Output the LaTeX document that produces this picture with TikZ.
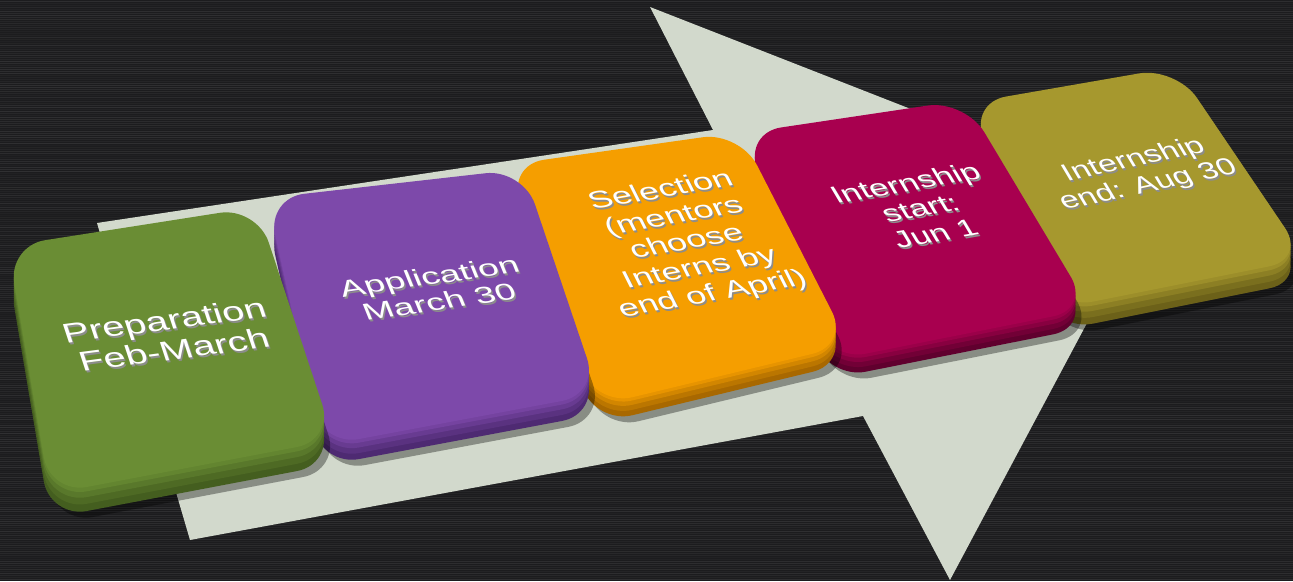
\documentclass[tikz,border=0pt]{standalone}
\usepackage{fontspec}
\newfontfamily\labfont{Liberation Sans}
\usetikzlibrary{calc}
\definecolor{bg}{HTML}{1C1C1E}
\definecolor{arrowc}{HTML}{D2D9CC}
\definecolor{gTop}{HTML}{6A8D34}\definecolor{gSide}{HTML}{445E1F}
\definecolor{pTop}{HTML}{7D49AA}\definecolor{pSide}{HTML}{4E2A72}
\definecolor{oTop}{HTML}{F59E00}\definecolor{oSide}{HTML}{A86800}
\definecolor{mTop}{HTML}{A8004F}\definecolor{mSide}{HTML}{60002E}
\definecolor{yTop}{HTML}{A6982E}\definecolor{ySide}{HTML}{6C6119}
\tikzset{
  lbl/.style={text=white, align=center, inner sep=0pt},
  lblshadow/.style={text=black!45},
  capfill/.style={rounded corners=0.75cm},
}
% #1 TL, #2 TR, #3 BR, #4 BL, #5 thickness, #6 top colour, #7 side colour
\newcommand{\keycap}[7]{%
  \fill[black,opacity=0.35,shift={(6,#5+6)},capfill] ($(#1)!0.5!(#2)$) -- (#2) -- (#3) -- (#4) -- (#1) -- cycle;
  \fill[#7,shift={(0,#5)},capfill] ($(#1)!0.5!(#2)$) -- (#2) -- (#3) -- (#4) -- (#1) -- cycle;
  \fill[#7!75!#6,shift={(0,#5*0.7)},capfill] ($(#1)!0.5!(#2)$) -- (#2) -- (#3) -- (#4) -- (#1) -- cycle;
  \fill[#7!45!#6,shift={(0,#5*0.42)},capfill] ($(#1)!0.5!(#2)$) -- (#2) -- (#3) -- (#4) -- (#1) -- cycle;
  \fill[#7!18!#6,shift={(0,#5*0.18)},capfill] ($(#1)!0.5!(#2)$) -- (#2) -- (#3) -- (#4) -- (#1) -- cycle;
  \fill[#6,capfill] ($(#1)!0.5!(#2)$) -- (#2) -- (#3) -- (#4) -- (#1) -- cycle;
}
% #1 name, #2 position, #3 options, #4 text
\newcommand{\keytext}[4]{%
  \node[lbl,#3,lblshadow] (#1s) at ($(#2)+(1.5,2)$) {#4};
  \node[lbl,#3] (#1) at (#2) {#4};
}
\begin{document}
\begin{tikzpicture}[x=0.02cm,y=-0.02cm]
\useasboundingbox (0,0) rectangle (1293,581);
\clip (0,0) rectangle (1293,581);
\fill[bg] (0,0) rectangle (1293,581);
\pgfmathsetseed{7}
\foreach \yy in {1,3,...,580} {
  \pgfmathsetmacro\op{0.02+0.07*rnd}
  \draw[white,opacity=\op,line width=0.5pt] (0,\yy) -- (1293,\yy);
}
% big arrow
\fill[arrowc] (97,223) -- (713,130) -- (650,7) -- (1151,203) -- (950,580) -- (863,416) -- (190,540) -- cycle;
% keycaps, back to front
\keycap{969,103}{1176,67}{1306,259}{1056,309}{22}{yTop}{ySide}
\keycap{744,133}{965,100}{1090,309}{829,361}{18}{mTop}{mSide}
\keycap{507,165}{740,132}{849,345}{596,406}{18}{oTop}{oSide}
\keycap{267,198}{523,169}{599,394}{322,446}{20}{pTop}{pSide}
\keycap{8,246}{257,207}{334,440}{50,494}{24}{gTop}{gSide}
% labels
\keytext{t1}{169,335}{rotate=7.5,xslant=-0.19,yscale=0.70,font={\labfont\fontsize{22.5}{25}\selectfont}}{Preparation\\Feb-March}
\keytext{t2}{434,289}{rotate=8,xslant=-0.25,yscale=0.64,font={\labfont\fontsize{21}{23.5}\selectfont}}{Application\\March 30}
\keytext{t3}{687,243}{rotate=10,xslant=-0.30,yscale=0.70,font={\labfont\fontsize{20}{22.5}\selectfont}}{Selection\\(mentors\\choose\\Interns by\\end of April)}
\keytext{t4}{920,208}{rotate=10,xslant=-0.38,yscale=0.72,font={\labfont\fontsize{19.3}{21.6}\selectfont}}{Internship\\start:\\Jun 1}
\keytext{t5}{1141,173}{rotate=12,xslant=-0.34,yscale=0.76,font={\labfont\fontsize{18.5}{20.7}\selectfont}}{Internship\\end: Aug 30}
\end{tikzpicture}
\end{document}
